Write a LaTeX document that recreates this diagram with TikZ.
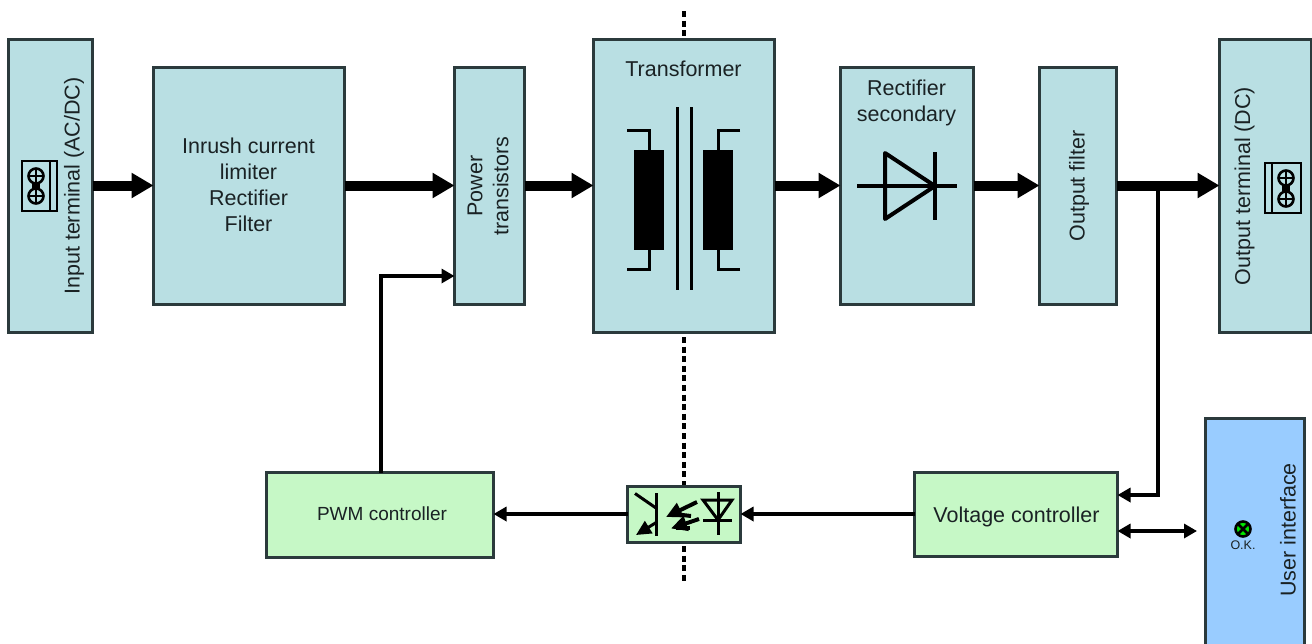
\documentclass[tikz,border=0pt]{standalone}
\usepackage{fontspec}
\setmainfont{Liberation Sans}
\usetikzlibrary{arrows.meta}
\definecolor{teal}{HTML}{B9DFE3}
\definecolor{mint}{HTML}{C6F8C6}
\definecolor{sky}{HTML}{99CCFF}
\definecolor{edge}{HTML}{2B3A3C}
\definecolor{ink}{HTML}{1A2224}
\tikzset{
  block/.style={draw=edge,line width=2.4pt,fill=#1,inner sep=0pt,outer sep=0pt,text=ink,font=\fontsize{21.5}{26}\selectfont,align=center},
  power/.style={line width=10pt,-{Triangle[length=22pt,width=24pt]}},
  signal/.style={line width=3.8pt,-{Triangle[length=13pt,width=14pt]}},
  signalboth/.style={line width=3.8pt,{Triangle[length=13pt,width=14pt]}-{Triangle[length=13pt,width=14pt]}},
  symline/.style={line width=3pt,line cap=butt},
  boundary/.style={line width=4.6pt,black,dash pattern=on 6pt off 3.6pt},
  label/.style={inner sep=0pt,text=ink,font=\fontsize{21.5}{26}\selectfont,align=center}
}
\newcommand{\boxat}[6]{\node[block=#1,minimum width=#4pt-#2pt,minimum height=#5pt-#3pt,anchor=north west] (#6) at (#2+0.5,#3+0.5) {};}
\begin{document}
\begin{tikzpicture}[x=1pt,y=-1pt]
\useasboundingbox (0,0) rectangle (1312,643);
\fill[white] (0,0) rectangle (1312,643);
% isolation boundary
\coordinate (dtop) at (684,11);
\coordinate (dtopb) at (684,39);
\coordinate (dmid) at (684,337);
\coordinate (dmidb) at (684,486);
\coordinate (dlow) at (684,546);
\coordinate (dlowb) at (684,581);
\draw[boundary] (dtop) -- (dtopb);
\draw[boundary] (dmid) -- (dmidb);
\draw[boundary] (dlow) -- (dlowb);
% blocks
\boxat{teal}{8}{39}{92}{332}{input}
\boxat{teal}{153}{67}{344}{304}{inrush}
\boxat{teal}{454}{67}{524}{304}{power}
\boxat{teal}{593}{39}{774}{332}{transformer}
\boxat{teal}{840}{67}{973}{304}{rect}
\boxat{teal}{1039}{67}{1116}{304}{filter}
\boxat{teal}{1219}{39}{1311}{332}{output}
\boxat{mint}{266}{472}{493}{557}{pwm}
\boxat{mint}{914}{472}{1117}{556}{volt}
\boxat{mint}{627}{486}{740}{542}{opto}
\boxat{sky}{1205}{418}{1304}{660}{ui}
% labels
\node[label,rotate=90] (tin) at (74,186) {Input terminal (AC/DC)};
\node[label] (tinrush) at (248.5,185) {Inrush current\\limiter\\Rectifier\\Filter};
\node[label,rotate=90] (tpower) at (488,186) {Power\\transistors};
\node[label] (ttrans) at (683.5,69) {Transformer};
\node[label] (trect) at (906.5,103) {Rectifier\\secondary};
\node[label,rotate=90] (tfilter) at (1079,186) {Output filter};
\node[label,rotate=90] (tout) at (1244.5,186) {Output terminal (DC)};
\node[label,font=\fontsize{19}{23}\selectfont] (tpwm) at (382,514) {PWM controller};
\node[label] (tvolt) at (1016.5,517) {Voltage controller};
\node[label,rotate=90] (tui) at (1288,530) {User interface};
\node[inner sep=0pt,text=ink,font=\fontsize{12.5}{15}\selectfont] (tok) at (1243,545) {O.K.};
% power path
\coordinate (bus) at (0,185.5);
\draw[power] (input.east |- bus) -- (inrush.west |- bus);
\draw[power] (inrush.east |- bus) -- (power.west |- bus);
\draw[power] (power.east |- bus) -- (transformer.west |- bus);
\draw[power] (transformer.east |- bus) -- (rect.west |- bus);
\draw[power] (rect.east |- bus) -- (filter.west |- bus);
\draw[power] (filter.east |- bus) -- (output.west |- bus);
% signals
\coordinate (tap) at (1158,185);
\coordinate (fb) at (1158,495);
\coordinate (ifc) at (1197,531);
\coordinate (optoy) at (0,514);
\coordinate (pw) at (381,276);
\draw[signal,line join=miter] (tap) -- (fb) -- (volt.east |- fb);
\draw[signalboth] (volt.east |- ifc) -- (ifc);
\draw[signal] (volt.west |- optoy) -- (opto.east |- optoy);
\draw[signal] (opto.west |- optoy) -- (pwm.east |- optoy);
\draw[signal,line join=miter] (pwm.north -| pw) -- (pw) -- (power.west |- pw);
% transformer symbol
\fill[black] (634,150) rectangle (664,250);
\fill[black] (703,150) rectangle (733,250);
\draw[symline] (677,107) -- (677,290);
\draw[symline] (691,107) -- (691,290);
\draw[symline] (627,130) -- (649,130) -- (649,150);
\draw[symline] (627,269) -- (649,269) -- (649,250);
\draw[symline] (740,130) -- (718,130) -- (718,150);
\draw[symline] (740,269) -- (718,269) -- (718,250);
% rectifier symbol
\draw[line width=4pt] (857,186) -- (957,186);
\draw[line width=4pt,line join=round] (885,153) -- (885,219) -- (935,186) -- cycle;
\draw[line width=4pt] (935,152) -- (935,220);
% optocoupler symbol
\draw[line width=3pt] (656,493) -- (656,536);
\draw[line width=3pt] (635,493.5) -- (656,508);
\draw[line width=3pt,-{Triangle[length=15pt,width=14pt]}] (657,522) -- (636,535);
\draw[line width=3pt] (718,492) -- (718,535);
\draw[line width=3pt] (703,500) -- (732,500) -- (718,520) -- cycle;
\draw[line width=3pt] (703,520) -- (732,520);
\draw[line width=4pt,-{Triangle[length=16pt,width=15pt]}] (697,502) -- (666,517);
\draw[line width=4pt] (674,514) -- (691,516);
\draw[line width=4pt,-{Triangle[length=16pt,width=15pt]}] (699,519) -- (671,528.5);
\draw[line width=4pt] (676,527.5) -- (690,527.5);
% terminal icons
\draw[line width=2.4pt] (22,161) rectangle (57,211);
\draw[line width=2.4pt] (50,161) -- (50,211);
\draw[line width=8pt] (36,176) -- (36,196);
\draw[line width=2.6pt,fill=teal] (36,176) circle (7.5);
\draw[line width=2.6pt,fill=teal] (36,196) circle (7.5);
\draw[line width=1.8pt] (29,176) -- (43,176) (36,169) -- (36,183) (29,196) -- (43,196) (36,189) -- (36,203);
\draw[line width=2.4pt] (1265,163) rectangle (1301,213);
\draw[line width=2.4pt] (1272,163) -- (1272,213);
\draw[line width=8pt] (1286,178) -- (1286,199);
\draw[line width=2.6pt,fill=teal] (1286,178) circle (7.5);
\draw[line width=2.6pt,fill=teal] (1286,199) circle (7.5);
\draw[line width=1.8pt] (1279,178) -- (1293,178) (1286,171) -- (1286,185) (1279,199) -- (1293,199) (1286,192) -- (1286,206);
% LED
\draw[line width=2.6pt,fill=green!90!black] (1243,529) circle (7.5);
\draw[line width=2.6pt] (1238,524) -- (1248,534) (1248,524) -- (1238,534);
\end{tikzpicture}
\end{document}
